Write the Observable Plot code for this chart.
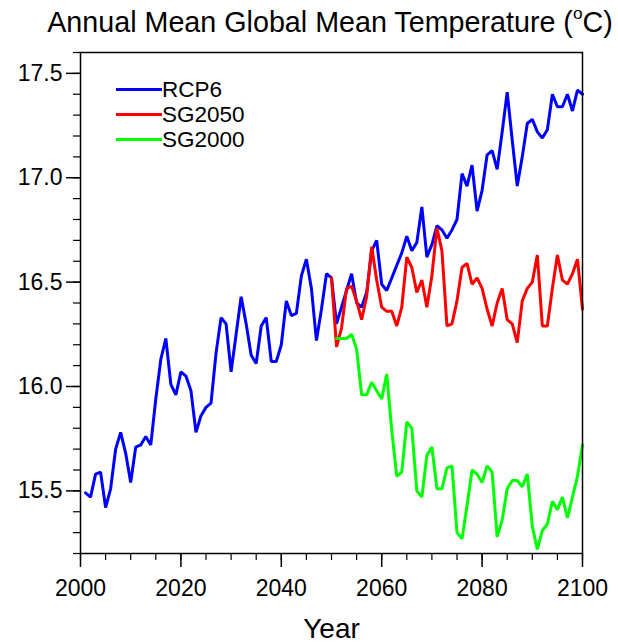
<!DOCTYPE html>
<html>
<head>
<meta charset="utf-8">
<script src="https://cdn.jsdelivr.net/npm/d3@7"></script>
<script src="https://cdn.jsdelivr.net/npm/@observablehq/plot@0.6"></script>
<style>
  body { margin: 0; background: #fff; font-family: "Liberation Sans", Arial, Helvetica, sans-serif; }
  #wrap { position: relative; width: 618px; height: 644px; overflow: hidden; }
  #title { position: absolute; left: 0; top: 8px; width: 660px; text-align: center; font-size: 28.7px; line-height: 28px; color: #000; white-space: nowrap; }
  #title sup { font-size: 0.6em; vertical-align: 0.75em; line-height: 0; }
  #chart { position: absolute; left: 0; top: 40px; }
  #legend { position: absolute; left: 116px; top: 77px; font-size: 22.5px; color: #000; }
  .row { display: flex; align-items: center; height: 25px; }
  .swatch { width: 46px; height: 3px; }
</style>
</head>
<body>
<div id="wrap">
  <div id="title">Annual Mean Global Mean Temperature (<sup>o</sup>C)</div>
  <div id="chart"></div>
  <div id="legend"></div>
</div>
<script>
// ---- data ----
const seriesNames = ["RCP6", "SG2050", "SG2000"];
const seriesColors = ["#0000ff", "#ff0000", "#00ff00"];

const rcp6Start = 2001;
const rcp6 = [
  15.49, 15.47, 15.58, 15.59, 15.42, 15.51, 15.70, 15.78, 15.68, 15.54,
  15.71, 15.72, 15.76, 15.72, 15.94, 16.13, 16.23, 16.01, 15.96, 16.07,
  16.05, 15.98, 15.78, 15.86, 15.90, 15.92, 16.16, 16.33, 16.30, 16.07,
  16.25, 16.43, 16.30, 16.15, 16.11, 16.29, 16.33, 16.12, 16.12, 16.20,
  16.41, 16.34, 16.35, 16.53, 16.61, 16.47, 16.22, 16.37, 16.54, 16.52,
  16.30, 16.38, 16.46, 16.54, 16.40, 16.38, 16.45, 16.65, 16.70, 16.49,
  16.46, 16.52, 16.58, 16.64, 16.72, 16.65, 16.69, 16.86, 16.62, 16.68,
  16.77, 16.75, 16.71, 16.75, 16.80, 17.02, 16.96, 17.06, 16.84, 16.94,
  17.11, 17.13, 17.04, 17.22, 17.41, 17.18, 16.96, 17.10, 17.26, 17.28,
  17.22, 17.19, 17.23, 17.40, 17.34, 17.34, 17.40, 17.32, 17.42, 17.40
];

const sg2050Start = 2050;
const sg2050 = [
  16.52,
  16.19, 16.28, 16.47, 16.48, 16.41, 16.32, 16.43, 16.67, 16.51, 16.38,
  16.36, 16.36, 16.29, 16.38, 16.62, 16.57, 16.45, 16.51, 16.38, 16.53,
  16.76, 16.65, 16.29, 16.30, 16.41, 16.57, 16.59, 16.49, 16.52, 16.47,
  16.37, 16.29, 16.40, 16.47, 16.32, 16.30, 16.21, 16.41, 16.47, 16.50,
  16.63, 16.29, 16.29, 16.47, 16.63, 16.51, 16.49, 16.54, 16.61, 16.37
];

const sg2000Start = 2051;
const sg2000 = [
  16.23, 16.23, 16.23, 16.25, 16.18, 15.96, 15.96, 16.02, 15.98, 15.94,
  16.06, 15.79, 15.57, 15.59, 15.83, 15.80, 15.50, 15.47, 15.67, 15.71,
  15.51, 15.51, 15.61, 15.62, 15.30, 15.27, 15.43, 15.60, 15.58, 15.54,
  15.62, 15.59, 15.28, 15.36, 15.51, 15.55, 15.55, 15.52, 15.58, 15.33,
  15.22, 15.31, 15.34, 15.45, 15.41, 15.47, 15.37, 15.47, 15.57, 15.72
];

const xMajorTicks = [2000, 2020, 2040, 2060, 2080, 2100];
const xMinorTicks = d3.range(2000, 2101, 5);
const yMajorTicks = [15.5, 16.0, 16.5, 17.0, 17.5];
const yMinorTicks = d3.range(152, 177, 1).map(v => v / 10);
const xLabel = "Year";

// ---- build tables ----
function toRows(name, start, values) {
  return values.map((v, i) => ({series: name, year: start + i, temp: v}));
}
const allSeries = [
  toRows(seriesNames[0], rcp6Start, rcp6),
  toRows(seriesNames[1], sg2050Start, sg2050),
  toRows(seriesNames[2], sg2000Start, sg2000)
];

const chart = Plot.plot({
  width: 618,
  height: 604,
  marginTop: 12,
  marginBottom: 91,
  marginLeft: 80,
  marginRight: 36,
  x: {domain: [2000, 2100]},
  y: {domain: [15.2, 17.6]},
  style: {fontFamily: "'Liberation Sans', Arial, Helvetica, sans-serif", fontSize: "23px", color: "#000", background: "#fff"},
  marks: [
    Plot.axisX({ticks: xMinorTicks, tickSize: 7, tickFormat: () => "", label: null, strokeWidth: 1.2}),
    Plot.axisX({ticks: xMajorTicks, tickSize: 14, tickPadding: 12, tickFormat: d => String(d), label: null, strokeWidth: 1.5}),
    Plot.axisY({ticks: yMinorTicks, tickSize: 7, tickFormat: () => "", label: null, strokeWidth: 1.2}),
    Plot.axisY({ticks: yMajorTicks, tickSize: 14, tickPadding: 4, tickFormat: d3.format(".1f"), label: null, strokeWidth: 1.5}),
    ...allSeries.map((rows, i) => Plot.line(rows, {x: "year", y: "temp", stroke: seriesColors[i], strokeWidth: 3, strokeLinejoin: "miter"})),
    Plot.frame({stroke: "#000", strokeWidth: 1.5}),
    Plot.text([xLabel], {text: d => d, frameAnchor: "bottom", dy: 84, fontSize: 28})
  ]
});
document.getElementById("chart").appendChild(chart);

// legend (inside plot area, top-left)
const legend = d3.select("#legend");
seriesNames.forEach((name, i) => {
  const row = legend.append("div").attr("class", "row");
  row.append("div").attr("class", "swatch").style("background", seriesColors[i]);
  row.append("span").text(name);
});
</script>
</body>
</html>
